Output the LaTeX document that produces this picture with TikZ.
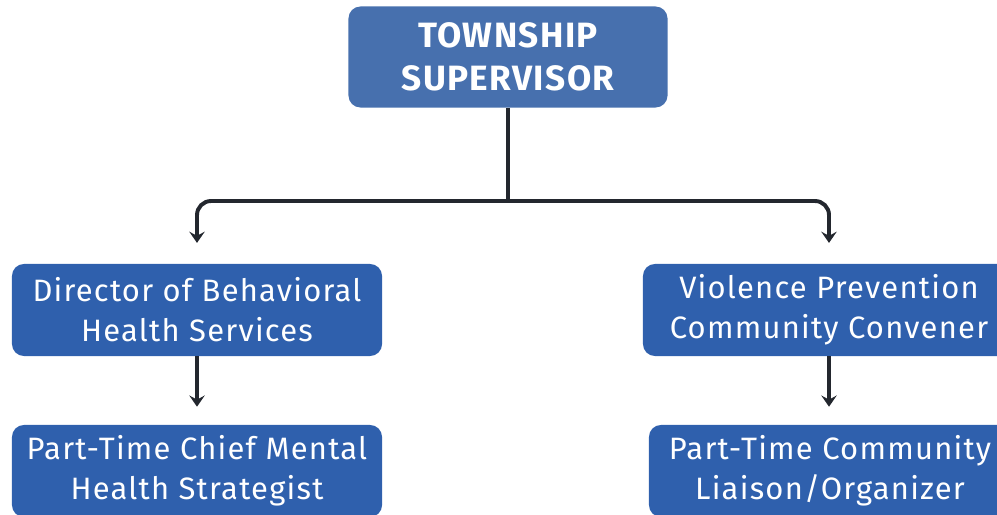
\documentclass[tikz,border=0pt]{standalone}
\usepackage{fontspec}
\setmainfont[LetterSpace=4]{Fira Sans}
\usetikzlibrary{positioning,arrows.meta}
\definecolor{headbox}{HTML}{4770AE}
\definecolor{rolebox}{HTML}{2F60AD}
\definecolor{linkcol}{HTML}{23272E}

\begin{document}
\begin{tikzpicture}[x=0.025cm,y=-0.025cm,>={Stealth[length=8pt,width=11pt,inset=3pt]},
    link/.style={draw=linkcol,line width=2.8pt},
    head/.style={rectangle,rounded corners=0.3cm,fill=headbox,text=white,align=center,
      minimum width=7.975cm,minimum height=2.525cm,
      font=\fontsize{25}{30.5}\selectfont\bfseries},
    role/.style={rectangle,rounded corners=0.3cm,fill=rolebox,text=white,align=center,
      minimum width=9.25cm,minimum height=2.3cm,
      font=\fontsize{22}{28.5}\selectfont}]

  \useasboundingbox (0,0) rectangle (997,514);
  \clip (0,0) rectangle (997,514);

  \node[head] (sup)     at (508,57)  {TOWNSHIP\\SUPERVISOR};
  \node[role] (dir)     at (197,310) {Director of Behavioral\\Health Services};
  \node[role] (conv)    at (829,310) [minimum width=9.3cm]  {Violence Prevention\\Community Convener};
  \node[role] (chief)   at (197,471) {Part-Time Chief Mental\\Health Strategist};
  \node[role] (liaison) at (830,471) [minimum width=9.05cm] {Part-Time Community\\Liaison/Organizer};

  \coordinate (split) at (sup.south |- 0,201);

  \draw[link] (sup.south) -- (split);
  \draw[link,->,rounded corners=0.35cm,shorten >=0.52cm] (split) -| (dir.north);
  \draw[link,->,rounded corners=0.35cm,shorten >=0.52cm] (split) -| (conv.north);
  \draw[link,->,shorten >=0.45cm] (dir) -- (chief);
  \draw[link,->,shorten >=0.45cm] (conv) -- (conv |- liaison.north);
\end{tikzpicture}
\end{document}
